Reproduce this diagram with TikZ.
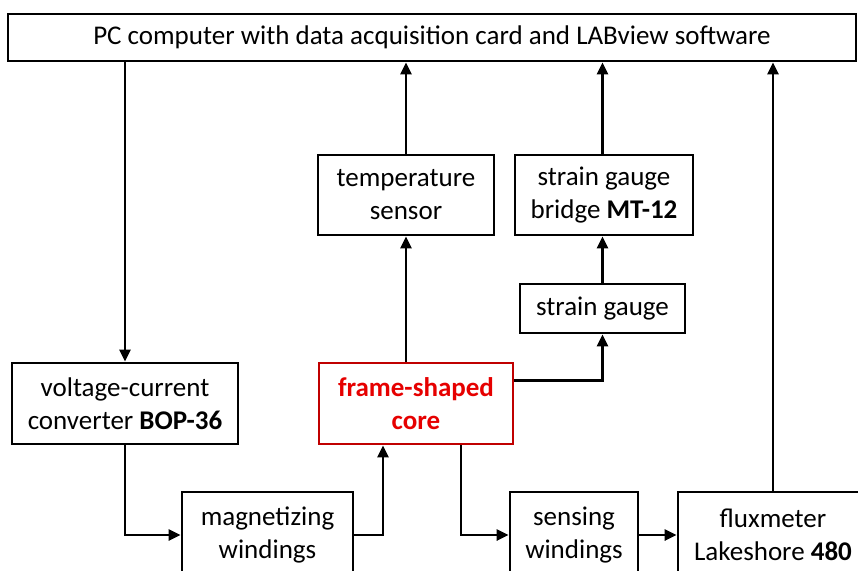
\documentclass[tikz,border=0pt]{standalone}
\usepackage{fontspec}
\setmainfont{Carlito}
\usepackage{xcolor}
\usetikzlibrary{positioning, arrows.meta}
\definecolor{coreedge}{HTML}{C00000}
\definecolor{coretext}{HTML}{E60000}

\begin{document}
\begin{tikzpicture}[
  x=1pt, y=-1pt,
  every node/.style={font=\fontsize{27}{33}\selectfont, align=center},
  box/.style={rectangle, draw=black, line width=2.8pt, fill=white,
              inner sep=2pt},
  arr/.style={-{Triangle[length=12pt, width=11pt]}, line width=2.8pt}
]
\useasboundingbox (0,0) rectangle (858,570);
\clip (0,0) rectangle (858,570);

\node[box, minimum width=848pt, minimum height=47pt] (pc) at (432,37.5)
  {PC computer with data acquisition card and LABview software};

\node[box, minimum width=226pt, minimum height=81pt] (volt) at (125,403.5)
  {voltage-current\\ converter \textbf{BOP-36}};
\node[box, minimum width=171pt, minimum height=86pt] (magn) at (267.5,535)
  {magnetizing\\ windings};
\node[box, draw=coreedge, text=coretext, minimum width=194pt,
      minimum height=81pt] (core) at (416,403.5)
  {\textbf{frame-shaped}\\ \textbf{core}};
\node[box, minimum width=176pt, minimum height=80pt] (temp) at (406,195)
  {temperature\\ sensor};
\node[box, minimum width=178pt, minimum height=80pt] (bridge) at (604,195)
  {strain gauge\\ bridge \textbf{MT-12}};
\node[box, minimum width=165pt, minimum height=49pt] (gauge) at (602.5,308.5)
  {strain gauge};
\node[box, minimum width=128pt, minimum height=86pt] (sens) at (574,535)
  {sensing\\ windings};
\node[box, minimum width=190pt, minimum height=86pt] (flux) at (773,535)
  {fluxmeter\\ Lakeshore \textbf{480}};

% excitation path
\draw[arr] (pc.south -| volt.north) -- (volt.north);
\draw[arr] (volt.south) |- (magn.west);
\draw[arr] (magn.east) -| ([xshift=-33pt]core.south);

% measurement paths
\draw[arr] (core.north -| temp.south) -- (temp.south);
\draw[arr] (temp.north) -- (temp.north |- pc.south);
\draw[arr] ([yshift=23pt]core.east) -| (gauge.south);
\draw[arr] (gauge.north) -- (gauge.north |- bridge.south);
\draw[arr] (bridge.north -| gauge.north) -- (gauge.north |- pc.south);
\draw[arr] ([xshift=45pt]core.south) |- (sens.west);
\draw[arr] (sens.east) -- (sens.east -| flux.west);
\draw[arr] (flux.north) -- (flux.north |- pc.south);
\end{tikzpicture}
\end{document}
